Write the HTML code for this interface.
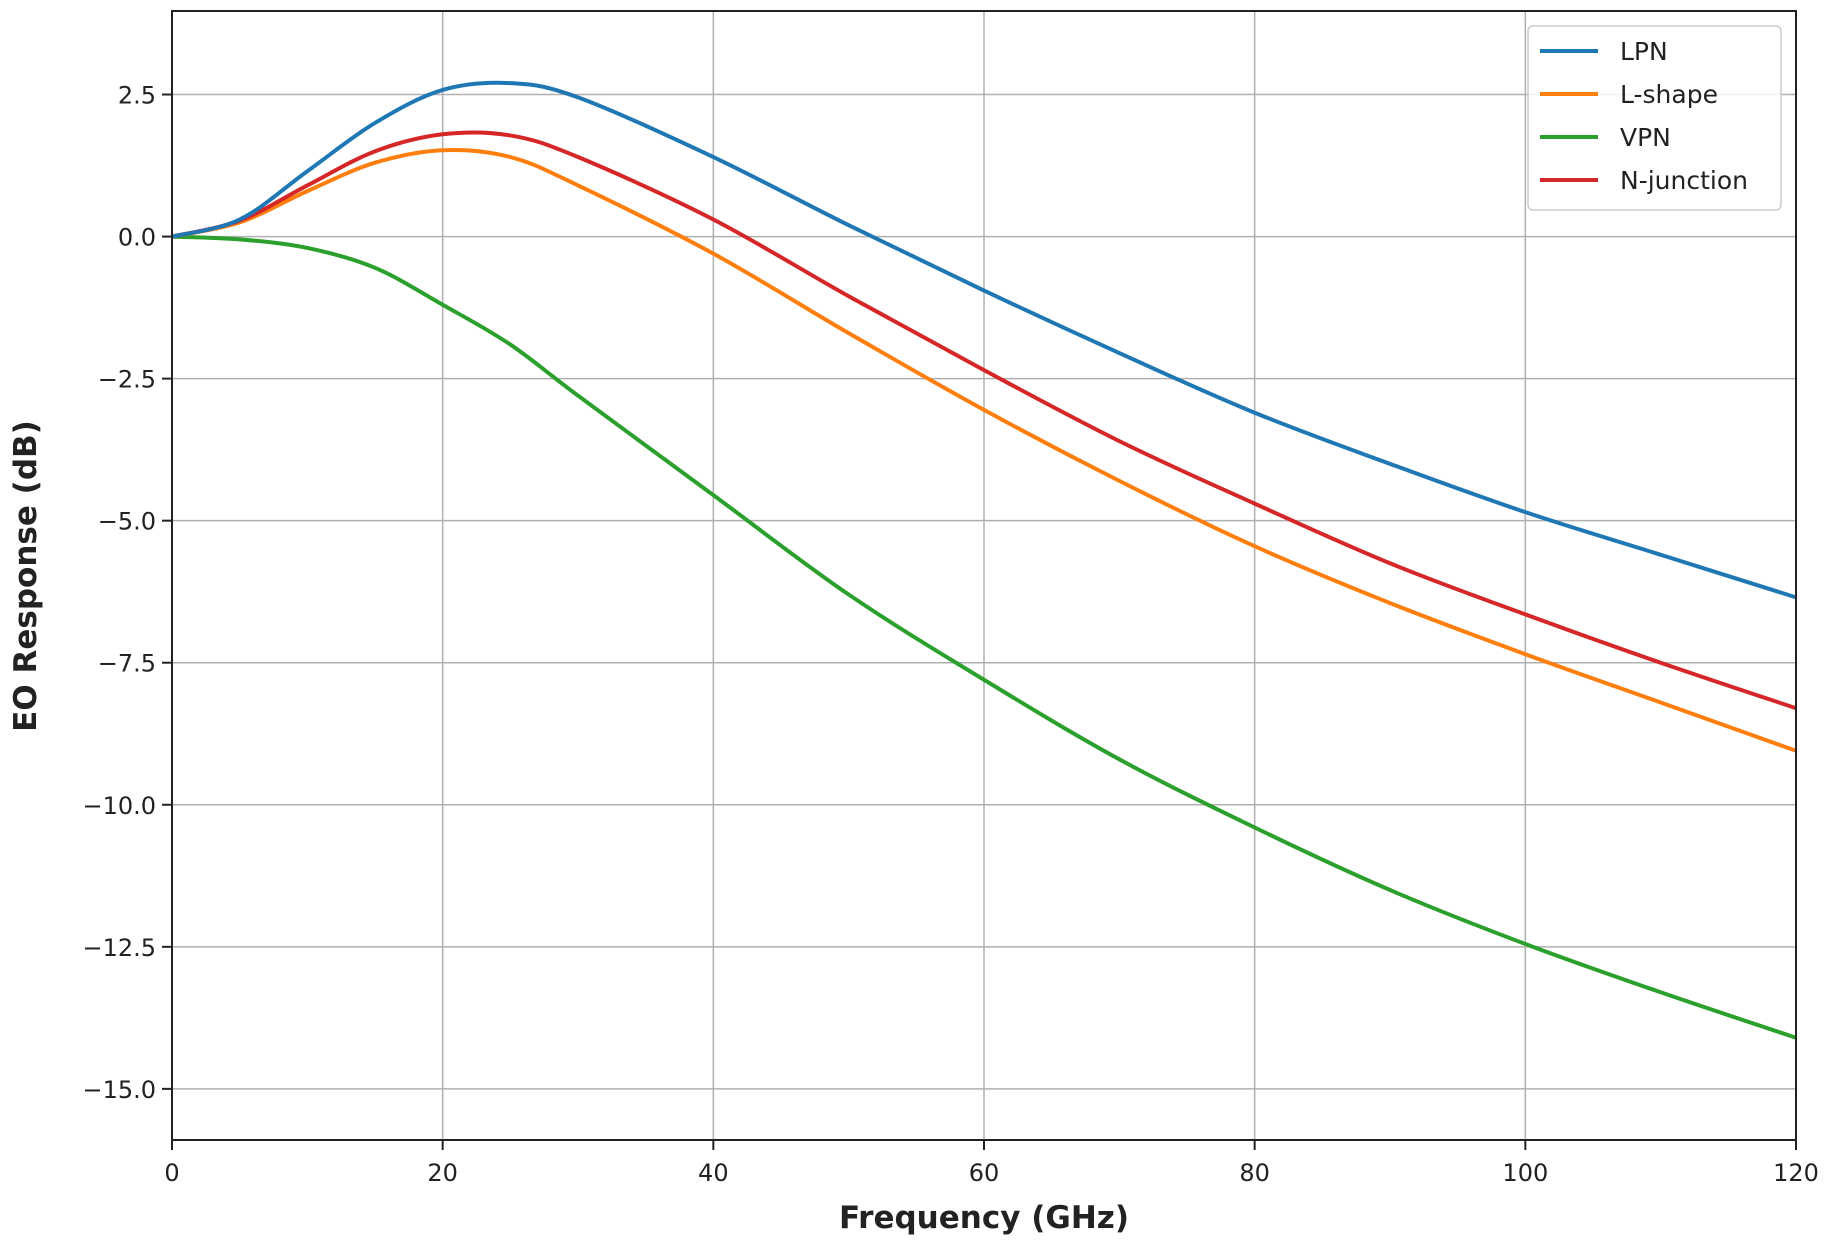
<!DOCTYPE html>
<html><head><meta charset="utf-8"><style>
body{margin:0;background:#fff;}
svg text{font-family:"DejaVu Sans","Liberation Sans",sans-serif;fill:#222;}
</style></head><body>
<svg id="chart" width="1829" height="1251" viewBox="0 0 1829 1251" xmlns="http://www.w3.org/2000/svg">
<g id="grid"></g>
<g id="series"></g>
<rect x="172" y="11" width="1624" height="1129" fill="none" stroke="#222" stroke-width="2"/>
<g id="ticks"></g>
<text x="984" y="1228" font-size="31" font-weight="bold" text-anchor="middle">Frequency (GHz)</text>
<text transform="translate(36,576) rotate(-90)" font-size="31" font-weight="bold" text-anchor="middle">EO Response (dB)</text>
<g id="legend"></g>
</svg>
<script>
const freqs = [0,5,10,15,20,25,30,40,50,60,70,80,90,100,110,120];
const lpn   = [0,0.3,1.15,2.0,2.58,2.7,2.45,1.4,0.2,-0.95,-2.05,-3.1,-4.0,-4.85,-5.6,-6.35];
const lshape= [0,0.25,0.8,1.3,1.52,1.4,0.9,-0.3,-1.7,-3.05,-4.3,-5.45,-6.45,-7.35,-8.2,-9.05];
const njunc = [0,0.28,0.9,1.5,1.8,1.78,1.4,0.3,-1.05,-2.35,-3.6,-4.7,-5.75,-6.65,-7.5,-8.3];
const vpn   = [0,-0.05,-0.2,-0.55,-1.2,-1.9,-2.8,-4.55,-6.3,-7.8,-9.2,-10.4,-11.5,-12.45,-13.3,-14.1];
const seriesNames = ["LPN","L-shape","VPN","N-junction"];
const xTicks = [0,20,40,60,80,100,120];
const yTicks = [2.5,0,-2.5,-5,-7.5,-10,-12.5,-15];
const yTickLabels = ["2.5","0.0","\u22122.5","\u22125.0","\u22127.5","\u221210.0","\u221212.5","\u221215.0"];

const X0=172,X1=1796,Y0=11,Y1=1140, XMIN=0,XMAX=120,YMIN=-15.9,YMAX=3.97;
const sx=v=>X0+(v-XMIN)/(XMAX-XMIN)*(X1-X0);
const sy=v=>Y1-(v-YMIN)/(YMAX-YMIN)*(Y1-Y0);
const NS="http://www.w3.org/2000/svg";
function mk(tag,attrs,parent){const e=document.createElementNS(NS,tag);for(const k in attrs)e.setAttribute(k,attrs[k]);parent.appendChild(e);return e;}
const grid=document.getElementById('grid'),ticks=document.getElementById('ticks');
xTicks.forEach(t=>{
  const g=mk('line',{x1:sx(t),x2:sx(t),y1:Y0,y2:Y1,stroke:'#b0b0b0','stroke-width':1.5},grid);
  
  
  const tk=mk('line',{x1:sx(t),x2:sx(t),y1:Y1,y2:Y1+10,stroke:'#222','stroke-width':2},ticks);
  
  
  const tx=mk('text',{x:sx(t),y:Y1+41,'font-size':24,'text-anchor':'middle'},ticks);
  tx.textContent=String(t);
  
  
});
yTicks.forEach((t,i)=>{
  const g=mk('line',{x1:X0,x2:X1,y1:sy(t),y2:sy(t),stroke:'#b0b0b0','stroke-width':1.5},grid);
  
  
  const tk=mk('line',{x1:X0-10,x2:X0,y1:sy(t),y2:sy(t),stroke:'#222','stroke-width':2},ticks);
  
  
  const tx=mk('text',{x:X0-16,y:sy(t)+9,'font-size':24,'text-anchor':'end'},ticks);
  tx.textContent=yTickLabels[i];
  
  
});
function pathFor(xs,ys){
  const p=xs.map((x,i)=>[sx(x),sy(ys[i])]);
  let d='M'+p[0][0]+','+p[0][1];
  for(let i=0;i<p.length-1;i++){
    const a=p[i-1]||p[i],b=p[i],c=p[i+1],e=p[i+2]||c;
    const c1=[b[0]+(c[0]-a[0])/6,b[1]+(c[1]-a[1])/6],c2=[c[0]-(e[0]-b[0])/6,c[1]-(e[1]-b[1])/6];
    d+=` C${c1[0]},${c1[1]} ${c2[0]},${c2[1]} ${c[0]},${c[1]}`;
  }
  return d;
}
const colors=["#1f77b4","#ff7f0e","#2ca02c","#d62728"];
const data=[lpn,lshape,vpn,njunc];
const sg=document.getElementById('series');
[2,1,3,0].forEach(i=>{
  const p=mk('path',{d:pathFor(freqs,data[i]),fill:'none',stroke:colors[i],'stroke-width':4},sg);
  
  
});
const lg=document.getElementById('legend');
const box=mk('rect',{x:1528,y:26,width:253,height:184,rx:5,fill:'#fff','fill-opacity':0.85,stroke:'#ccc','stroke-width':1.5},lg);


seriesNames.forEach((n,i)=>{
  const y=51+i*43;
  const l=mk('line',{x1:1540,x2:1598,y1:y,y2:y,stroke:colors[i],'stroke-width':4},lg);
  
  
  const t=mk('text',{x:1620,y:y+9,'font-size':25},lg);
  t.textContent=n;
  
  
});
</script>
</body></html>
